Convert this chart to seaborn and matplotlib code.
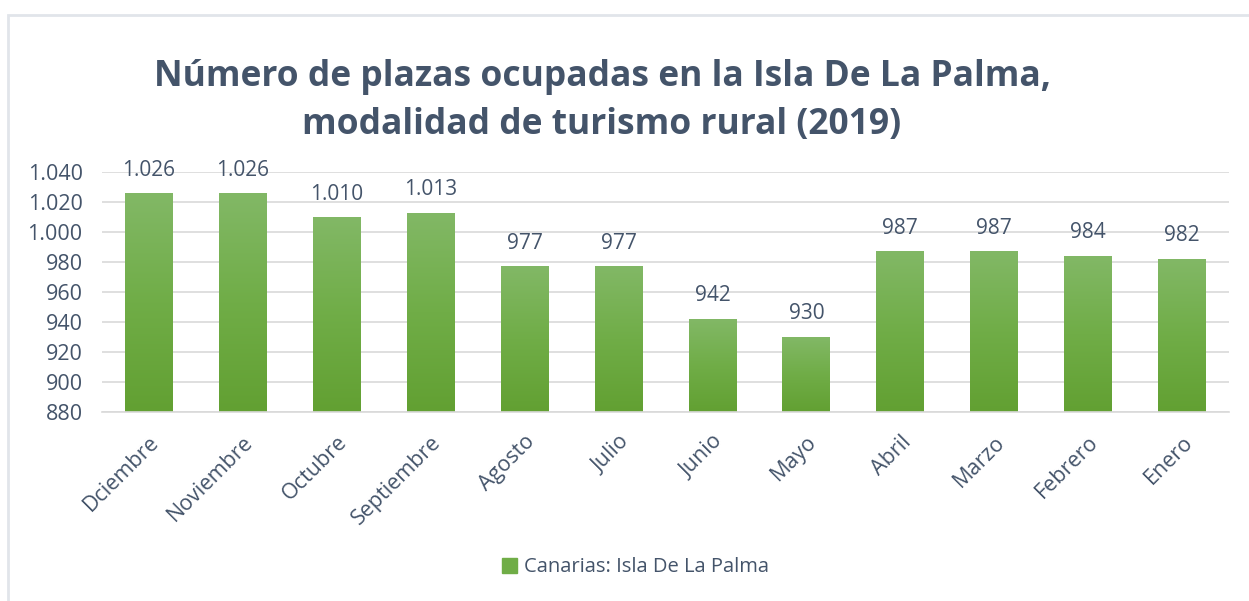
import numpy as np
import pandas as pd
import seaborn as sns
import matplotlib.pyplot as plt
from matplotlib.colors import LinearSegmentedColormap
from matplotlib.patches import Rectangle
from matplotlib.ticker import FuncFormatter

meses = ["Dciembre", "Noviembre", "Octubre", "Septiembre", "Agosto", "Julio",
         "Junio", "Mayo", "Abril", "Marzo", "Febrero", "Enero"]
plazas = [1026, 1026, 1010, 1013, 977, 977, 942, 930, 987, 987, 984, 982]
serie = "Canarias: Isla De La Palma"
titulo = "Número de plazas ocupadas en la Isla De La Palma,\nmodalidad de turismo rural (2019)"

df = pd.DataFrame({"Mes": meses, "Plazas": plazas})

texto = "#44546a"
verde = "#70ad47"
grad = LinearSegmentedColormap.from_list("g", ["#62a032", "#70ad47", "#82b866"])

sns.set_theme(style="white")
plt.rcParams["font.family"] = ["Open Sans", "DejaVu Sans"]

fig = plt.figure(figsize=(12.49, 6.01), dpi=100)
ax = fig.add_axes([0.0817, 0.3145, 0.9023, 0.3993])

sns.barplot(data=df, x="Mes", y="Plazas", color=verde, width=0.51,
            saturation=1, ax=ax, label=serie)

ax.set_ylim(880, 1040)
ax.set_yticks(np.arange(880, 1041, 20))
ax.yaxis.set_major_formatter(FuncFormatter(lambda v, p: f"{int(v):,}".replace(",", ".")))

# gradient fill on each bar
img = np.linspace(0, 1, 256).reshape(-1, 1)
for bar in ax.patches:
    x0, w, h = bar.get_x(), bar.get_width(), bar.get_height()
    bar.set_facecolor("none")
    bar.set_edgecolor("none")
    im = ax.imshow(img, cmap=grad, aspect="auto", origin="lower",
                   extent=[x0, x0 + w, 880, h], zorder=2)
    im.set_clip_path(Rectangle((x0, 880), w, h - 880, transform=ax.transData))
ax.set_xlim(-0.5, len(meses) - 0.5)
ax.set_ylim(880, 1040)

for i, v in enumerate(plazas):
    ax.annotate(f"{v:,}".replace(",", "."), (i, v), xytext=(0, 9),
                textcoords="offset points", ha="center", va="bottom",
                fontsize=15, color=texto, annotation_clip=False)

ax.yaxis.grid(True, color="#d9d9d9", linewidth=1.2)
ax.set_axisbelow(True)
sns.despine(ax=ax, left=True, top=True, right=True)
ax.spines["bottom"].set_color("#d9d9d9")
ax.spines["bottom"].set_linewidth(1.2)
ax.tick_params(axis="both", length=0, labelsize=15.5, colors=texto)
ax.tick_params(axis="y", pad=14)
ax.tick_params(axis="x", pad=14)
plt.setp(ax.get_xticklabels(), rotation=45, ha="right", rotation_mode="anchor")
ax.set_xlabel("")
ax.set_ylabel("")

fig.text(0.482, 0.832, titulo, ha="center", va="center", fontsize=25.5,
         fontweight="bold", color=texto, linespacing=1.45)

leg = ax.legend(handles=[Rectangle((0, 0), 1, 1, color=verde)], labels=[serie],
                loc="center", bbox_to_anchor=(0.509, 0.056),
                bbox_transform=fig.transFigure, frameon=False,
                fontsize=14.5, handlelength=0.75, handleheight=0.75, handletextpad=0.35)
for t in leg.get_texts():
    t.set_color(texto)

fig.patches.append(Rectangle((8 / 1249, -0.1), 1.2, 1.1 - 15 / 601,
                             transform=fig.transFigure, fill=False,
                             edgecolor="#e1e5ea", linewidth=2))

fig.savefig("out.png", dpi=100)
